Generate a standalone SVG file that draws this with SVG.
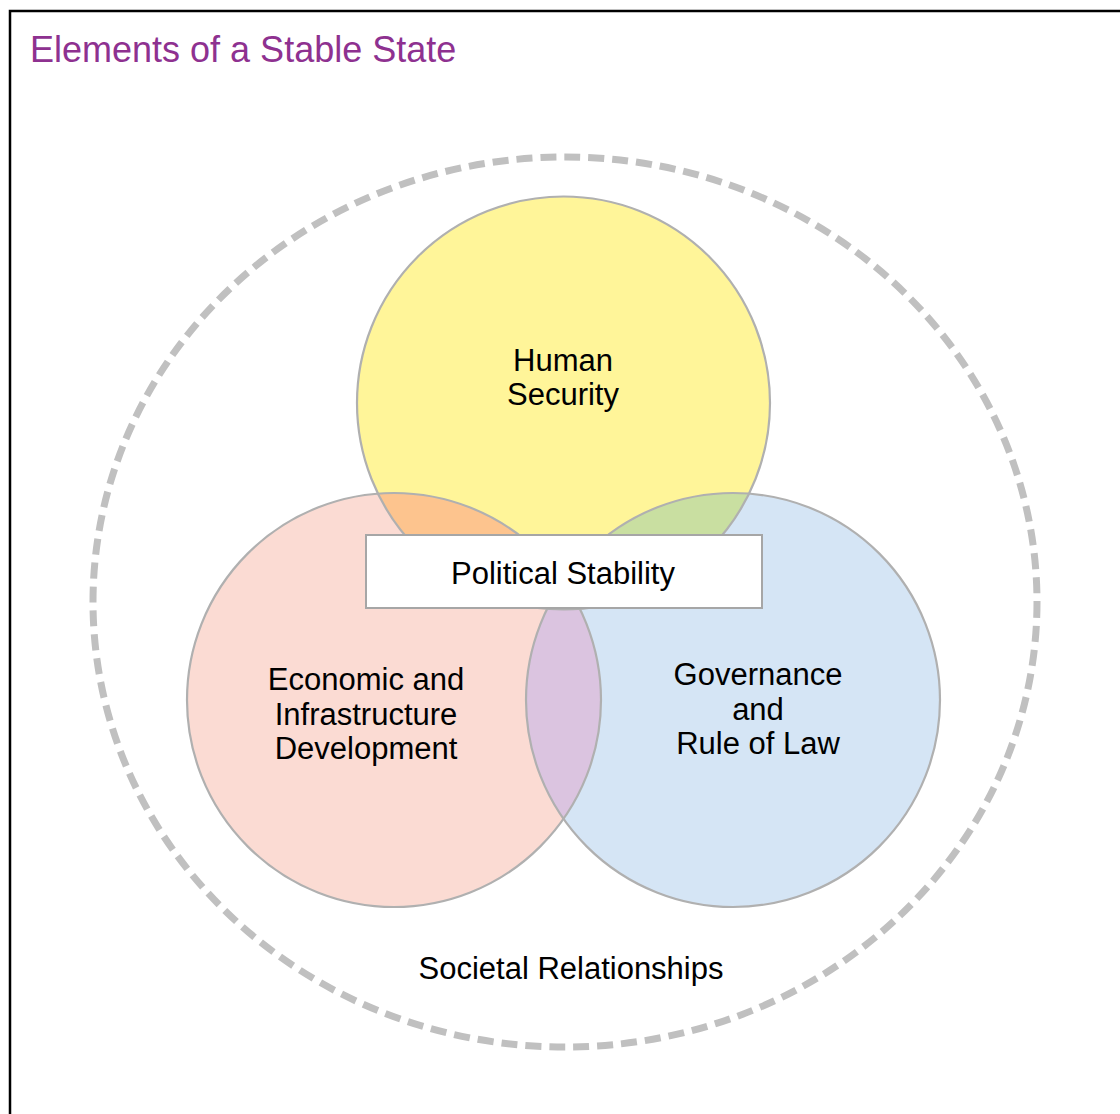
<svg xmlns="http://www.w3.org/2000/svg" width="1120" height="1114" viewBox="0 0 1120 1114">
<style>
.lbl{font-family:"Liberation Sans",Arial,sans-serif;font-size:31px;fill:#000;text-anchor:middle}
.title{font-family:"Liberation Sans",Arial,sans-serif;font-size:36px;fill:#8e3190}
.ring{fill:none;stroke:#b0b0b0;stroke-width:2.2}
</style>
<defs>
<circle id="cY" cx="563.5" cy="403" r="206.5"/>
<circle id="cP" cx="394" cy="700" r="207"/>
<circle id="cB" cx="733" cy="700" r="207"/>
<clipPath id="clipY"><use href="#cY"/></clipPath>
<clipPath id="clipP"><use href="#cP"/></clipPath>
</defs>
<rect x="0" y="0" width="1120" height="1114" fill="#fff"/>
<rect x="10" y="11" width="1130" height="1120" fill="none" stroke="#000" stroke-width="2.5"/>
<text class="title" x="30" y="62">Elements of a Stable State</text>
<ellipse cx="565" cy="602" rx="472" ry="445" fill="none" stroke="#c0c0c0" stroke-width="7" stroke-dasharray="16 8"/>
<g id="human-security">
<use href="#cY" fill="#fff599"/>
</g>
<g id="economic">
<use href="#cP" fill="#fbdbd3"/>
</g>
<g id="governance">
<use href="#cB" fill="#d5e5f5"/>
</g>
<g id="overlaps">
<use href="#cP" fill="#fdc48e" clip-path="url(#clipY)"/>
<use href="#cB" fill="#c9dfa1" clip-path="url(#clipY)"/>
<use href="#cB" fill="#dbc4e0" clip-path="url(#clipP)"/>
</g>
<g id="outlines">
<use href="#cY" class="ring"/>
<use href="#cP" class="ring"/>
<use href="#cB" class="ring"/>
</g>
<text class="lbl" x="563" y="371">Human</text>
<text class="lbl" x="563" y="405">Security</text>
<text class="lbl" x="366" y="690">Economic and</text>
<text class="lbl" x="366" y="725">Infrastructure</text>
<text class="lbl" x="366" y="759">Development</text>
<text class="lbl" x="758" y="685">Governance</text>
<text class="lbl" x="758" y="720">and</text>
<text class="lbl" x="758" y="754">Rule of Law</text>
<g id="political-stability">
<rect x="366" y="535" width="396" height="73" fill="#fff" stroke="#a6a6a6" stroke-width="2"/>
<text class="lbl" x="563" y="584">Political Stability</text>
</g>
<g id="societal">
<text class="lbl" x="571" y="979">Societal Relationships</text>
</g>
</svg>
